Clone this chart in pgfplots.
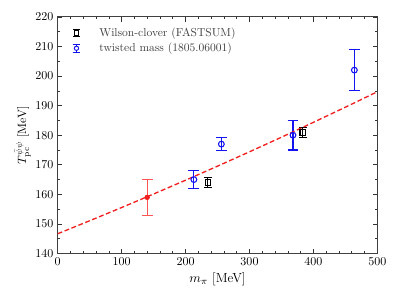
\documentclass[border=0pt]{standalone}
\usepackage{pgfplots}
\pgfplotsset{compat=1.18}
\usetikzlibrary{calc}
\definecolor{myblue}{RGB}{20,20,240}
\definecolor{myred}{RGB}{240,30,30}
\definecolor{lightred}{RGB}{255,85,85}
\begin{document}
\begin{tikzpicture}
\begin{axis}[
  scale only axis,
  width=266pt, height=197pt,
  xmin=0, xmax=500, ymin=140, ymax=220,
  xtick={0,100,...,500}, ytick={140,150,...,220},
  minor x tick num=4, minor y tick num=1,
  tick align=inside,
  major tick length=4pt, minor tick length=2pt,
  axis line style={black!75, line width=0.8pt},
  tick style={black!80, line width=0.5pt},
  xlabel={$m_\pi$ [MeV]},
  ylabel={$T_{\mathrm{pc}}^{\bar\psi\psi}$ [MeV]},
  xlabel style={font=\fontsize{11}{13}\selectfont, yshift=1pt},
  ylabel style={yshift=-3pt},
  legend style={draw=none, fill=none, at={(0.02,0.975)}, anchor=north west, font=\fontsize{9.6}{11}\selectfont, text=black!75, row sep=0pt},
  legend cell align=left,
]
\coordinate (LL) at (rel axis cs:0,0);
\coordinate (UR) at (rel axis cs:1,1);
% Wilson clover
\addplot[black, line width=0.9pt, only marks, mark=square, mark size=2.4pt,
  mark options={solid, fill=white},
  legend image code/.code={
    \path[draw=none, fill=none] (0cm,-0.1cm) rectangle (0.85cm,0.1cm);
    \draw[black, line width=0.9pt] (0.25cm,-0.09cm) -- (0.25cm,0.09cm)
       (0.16cm,-0.09cm) -- (0.34cm,-0.09cm) (0.16cm,0.09cm) -- (0.34cm,0.09cm);
    \draw[black, line width=0.8pt, fill=white] (0.25cm,0cm) ++(-1.8pt,-1.8pt) rectangle ++(3.6pt,3.6pt);
  },
  error bars/.cd, y dir=both, y explicit,
  error bar style={line width=0.9pt}, error mark options={rotate=90, line width=0.9pt, mark size=3.3pt}]
  coordinates {(235,164) +- (0,1.8) (383.5,181) +- (0,1.7)};
\addlegendentry{Wilson-clover (FASTSUM)}
% twisted mass
\addplot[myblue, line width=0.9pt, only marks, mark=o, mark size=2.4pt,
  mark options={solid, fill=white},
  legend image code/.code={
    \path[draw=none, fill=none] (0cm,-0.1cm) rectangle (0.85cm,0.1cm);
    \draw[myblue, line width=0.9pt] (0.25cm,-0.11cm) -- (0.25cm,0.11cm)
       (0.14cm,-0.11cm) -- (0.36cm,-0.11cm) (0.14cm,0.11cm) -- (0.36cm,0.11cm);
    \draw[myblue, line width=0.8pt, fill=white] (0.25cm,0cm) circle (1.8pt);
  },
  error bars/.cd, y dir=both, y explicit,
  error bar style={line width=0.9pt}, error mark options={rotate=90, line width=0.9pt, mark size=4.5pt}]
  coordinates {(213,165) +- (0,3) (256,177) +- (0,2.3) (368,180) +- (0,5) (464,202) +- (0,7)};
\addlegendentry{twisted mass (1805.06001)}
% physical point error bar drawn as plain lines (no legend entry)
\addplot[lightred, line width=1pt, mark=none] coordinates {(140,153) (140,165)};
\addplot[lightred, line width=1pt, mark=none] coordinates {(131.5,153) (148.5,153)};
\addplot[lightred, line width=1pt, mark=none] coordinates {(131.5,165) (148.5,165)};
% fit curve
\addplot[myred, line width=1.1pt, dash pattern=on 4pt off 2.2pt] coordinates {
 (0,146.7) (50,151.09) (100,155.56) (150,160.13) (200,164.79) (250,169.54)
 (300,174.39) (350,179.32) (400,184.35) (450,189.47) (500,194.68)};
% physical point mark
\addplot[myred, only marks, mark=*, mark size=2pt] coordinates {(140,159)};
\end{axis}
\path (LL) ++(-48pt,-38pt) rectangle ($(UR)+(18pt,14pt)$);
\end{tikzpicture}
\end{document}
